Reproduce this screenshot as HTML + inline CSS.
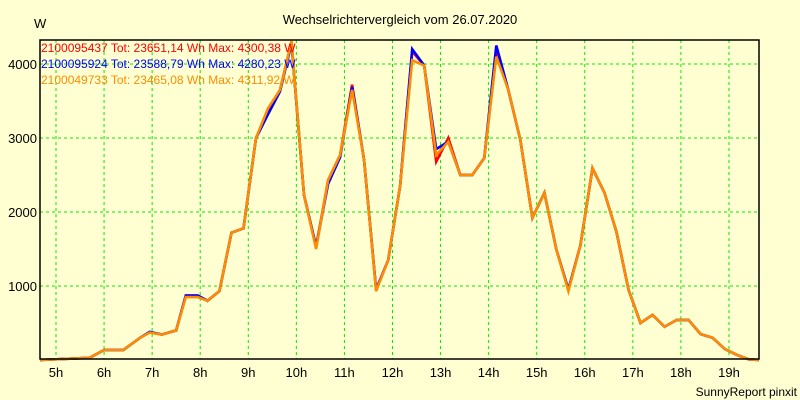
<!DOCTYPE html>
<html><head><meta charset="utf-8"><style>
body{margin:0;background:#ffffd2;}
svg{display:block;font-family:"Liberation Sans",sans-serif;}
</style></head><body>
<svg id="chart" width="800" height="400" viewBox="0 0 800 400">
<rect x="0" y="0" width="800" height="400" fill="#ffffd2"/>
<text x="400" y="24" text-anchor="middle" font-size="13">Wechselrichtervergleich vom 26.07.2020</text>
<text x="34" y="28" font-size="13">W</text>
<g id="grid"></g>
<g id="series"></g>
<rect x="40" y="40" width="719" height="319" fill="none" stroke="#000" stroke-width="1.5"/>
<g id="axes"></g>
<g font-size="12">
<text x="41" y="52" fill="#ff0000">2100095437 Tot: 23651,14 Wh Max: 4300,38 W</text>
<text x="41" y="68" fill="#0000ff">2100095924 Tot: 23588,79 Wh Max: 4280,23 W</text>
<text x="41" y="84" fill="#ff8c00">2100049733 Tot: 23465,08 Wh Max: 4311,92 W</text>
</g>
<text x="797" y="396" text-anchor="end" font-size="12">SunnyReport pinxit</text>
</svg>
<script>
const hours=[4.67,5.7,6.0,6.4,6.75,6.95,7.2,7.5,7.7,7.95,8.15,8.4,8.65,8.9,9.16,9.41,9.66,9.9,10.16,10.41,10.66,10.91,11.16,11.41,11.66,11.91,12.16,12.41,12.66,12.91,13.16,13.41,13.66,13.91,14.16,14.41,14.66,14.91,15.16,15.41,15.66,15.91,16.16,16.41,16.66,16.91,17.16,17.41,17.66,17.91,18.16,18.41,18.66,18.91,19.16,19.41,19.62];
const seriesRed=[0,30,135,135,300,375,345,400,870,870,800,930,1720,1780,3000,3380,3650,4300,2230,1530,2430,2770,3720,2700,950,1350,2360,4170,3980,2680,3000,2500,2500,2730,4170,3650,2970,1920,2260,1490,950,1550,2590,2260,1730,950,500,610,450,540,540,350,300,150,70,10,0];
const seriesBlue=[0,30,135,135,300,380,345,400,870,870,800,930,1720,1780,3000,3320,3630,4280,2230,1530,2380,2740,3690,2700,950,1350,2360,4200,3980,2850,2950,2500,2500,2730,4250,3650,2970,1920,2260,1490,950,1550,2590,2260,1730,950,500,610,450,540,540,350,300,150,70,10,0];
const seriesOrange=[0,30,135,135,300,370,345,400,850,850,800,930,1720,1780,3000,3400,3650,4310,2230,1500,2430,2770,3650,2700,930,1350,2360,4050,3980,2770,2950,2500,2500,2730,4100,3650,2970,1920,2260,1490,930,1550,2590,2260,1730,950,500,610,450,540,540,350,300,150,70,10,0];
const yTicks=[1000,2000,3000,4000];
const xTicks=[5,6,7,8,9,10,11,12,13,14,15,16,17,18,19];
const NS="http://www.w3.org/2000/svg";
function xs(h){return 56+(h-5)*48.07;}
function ys(w){return 360-w*0.074;}
const grid=document.getElementById('grid'),axes=document.getElementById('axes'),ser=document.getElementById('series');
yTicks.forEach(v=>{
 const l=document.createElementNS(NS,'line');
 
 
 l.setAttribute('x1',40);l.setAttribute('x2',759);l.setAttribute('y1',ys(v));l.setAttribute('y2',ys(v));
 l.setAttribute('stroke','#00ee00');l.setAttribute('stroke-dasharray','3,3');
 grid.appendChild(l);
 const t=document.createElementNS(NS,'text');
 
 
 t.setAttribute('x',37);t.setAttribute('y',ys(v)+5);t.setAttribute('text-anchor','end');t.setAttribute('font-size','13');
 t.textContent=v;axes.appendChild(t);
});
xTicks.forEach(h=>{
 const l=document.createElementNS(NS,'line');
 
 
 l.setAttribute('x1',xs(h));l.setAttribute('x2',xs(h));l.setAttribute('y1',40);l.setAttribute('y2',359);
 l.setAttribute('stroke','#00ee00');l.setAttribute('stroke-dasharray','3,3');
 grid.appendChild(l);
 const t=document.createElementNS(NS,'text');
 
 
 t.setAttribute('x',xs(h));t.setAttribute('y',377);t.setAttribute('text-anchor','middle');t.setAttribute('font-size','13');
 t.textContent=h+'h';axes.appendChild(t);
});
[[seriesRed,'#ff0000','line-red'],[seriesBlue,'#0000ff','line-blue'],[seriesOrange,'#ff8c00','line-orange']].forEach(([d,c,n])=>{
 const p=document.createElementNS(NS,'polyline');
 
 
 p.setAttribute('points',d.map((v,i)=>xs(hours[i]).toFixed(1)+','+ys(v).toFixed(1)).join(' '));
 p.setAttribute('fill','none');p.setAttribute('stroke',c);p.setAttribute('stroke-width','2.6');
 ser.appendChild(p);
});
</script>
</body></html>
